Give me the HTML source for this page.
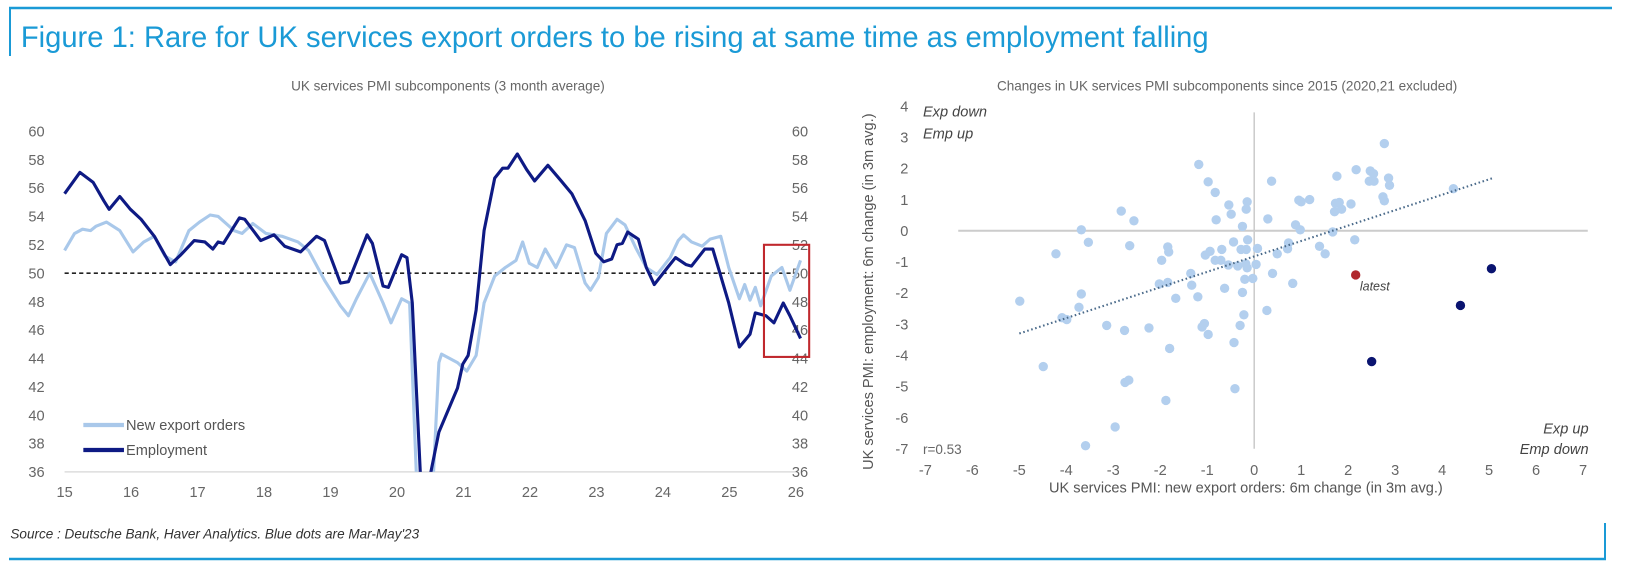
<!DOCTYPE html>
<html><head><meta charset="utf-8"><style>
body{margin:0;background:#fff;width:1632px;height:576px;overflow:hidden;font-family:"Liberation Sans",sans-serif}
svg{display:block}
</style></head><body>
<svg id="s" width="1632" height="576">
<rect x="0" y="0" width="1632" height="576" fill="#fff"/>
<line x1="9" y1="8" x2="1612" y2="8" stroke="#1a9ad6" stroke-width="2.5"/>
<line x1="10" y1="8" x2="10" y2="56" stroke="#1a9ad6" stroke-width="2"/>
<line x1="9" y1="559" x2="1606" y2="559" stroke="#1a9ad6" stroke-width="2.5"/>
<line x1="1605" y1="523" x2="1605" y2="559" stroke="#1a9ad6" stroke-width="2"/>
<g transform="scale(1.0417)">
<text x="20" y="45" font-size="28" fill="#1a9ad6">Figure 1: Rare for UK services export orders to be rising at same time as employment falling</text>
<text x="10" y="517" font-size="13" font-style="italic" fill="#333">Source : Deutsche Bank, Haver Analytics. Blue dots are Mar-May'23</text>
<text x="430" y="87" font-size="13" fill="#666" text-anchor="middle">UK services PMI subcomponents (3 month average)</text>
<text x="1178" y="87" font-size="13" fill="#666" text-anchor="middle">Changes in UK services PMI subcomponents since 2015 (2020,21 excluded)</text>
<g id="left"></g>
<g id="right"></g>
</g>
</svg>
<script>
const NS="http://www.w3.org/2000/svg";
function mk(p,t,a){const e=document.createElementNS(NS,t);for(const k in a)e.setAttribute(k,a[k]);p.appendChild(e);return e;}
// ---- Left chart data
const yearTicks=[15,16,17,18,19,20,21,22,23,24,25,26];
const valTicks=[60,58,56,54,52,50,48,46,44,42,40,38,36];
const empX=[15.0,15.23,15.43,15.59,15.67,15.83,15.99,16.15,16.35,16.59,16.75,16.95,17.11,17.23,17.31,17.39,17.63,17.71,17.95,18.15,18.31,18.55,18.79,18.91,19.15,19.27,19.55,19.63,19.79,19.87,20.07,20.15,20.23,20.35,20.43,20.51,20.63,20.91,20.99,21.07,21.19,21.31,21.47,21.59,21.67,21.81,21.95,22.07,22.27,22.47,22.63,22.83,22.99,23.11,23.23,23.31,23.39,23.47,23.63,23.75,23.87,24.07,24.19,24.35,24.43,24.63,24.75,24.99,25.15,25.31,25.39,25.55,25.67,25.81,25.91,26.07];
const empY=[55.6,57.1,56.4,55.1,54.5,55.4,54.5,53.8,52.6,50.6,51.3,52.3,52.2,51.7,52.2,52.1,53.9,53.8,52.3,52.7,51.9,51.5,52.6,52.3,49.3,49.4,52.7,52.1,49.1,49.0,51.3,51.1,47.9,36.0,33.0,36.0,38.8,41.9,43.6,44.2,47.4,53.0,56.7,57.4,57.4,58.4,57.3,56.5,57.6,56.5,55.6,53.7,51.4,50.8,51.0,52.0,52.1,52.9,52.4,50.4,49.2,50.4,51.1,50.6,50.5,51.7,51.7,47.9,44.8,45.7,47.2,47.0,46.5,47.9,47.0,45.4];
const expX=[15.0,15.15,15.27,15.39,15.47,15.63,15.83,16.03,16.19,16.35,16.51,16.67,16.87,17.03,17.19,17.31,17.55,17.67,17.83,18.03,18.27,18.51,18.67,18.91,19.15,19.27,19.39,19.59,19.79,19.91,20.07,20.19,20.29,20.42,20.55,20.63,20.67,20.91,21.05,21.19,21.31,21.47,21.63,21.79,21.89,21.99,22.11,22.23,22.39,22.55,22.67,22.83,22.91,23.03,23.15,23.31,23.43,23.59,23.75,23.91,24.11,24.23,24.31,24.43,24.59,24.71,24.87,24.99,25.15,25.23,25.31,25.39,25.47,25.63,25.79,25.91,26.07];
const expY=[51.6,52.8,53.1,53.0,53.3,53.6,53.0,51.5,52.2,52.6,51.2,50.8,53.0,53.6,54.1,54.0,53.0,52.8,53.5,52.8,52.6,52.2,51.6,49.5,47.7,47.0,48.2,50.0,47.9,46.5,48.2,47.9,36.0,32.0,36.0,43.7,44.3,43.7,43.1,44.2,47.9,49.8,50.4,50.9,52.2,50.7,50.4,51.7,50.4,52.0,51.8,49.3,48.8,49.7,52.8,53.8,53.4,51.8,50.4,49.9,51.1,52.3,52.7,52.2,51.9,52.4,52.6,50.4,48.2,49.2,48.1,49.0,47.7,49.8,50.4,48.8,50.9];
// ---- Right chart data
const xTicksR=[-7,-6,-5,-4,-3,-2,-1,0,1,2,3,4,5,6,7];
const yTicksR=[4,3,2,1,0,-1,-2,-3,-4,-5,-6,-7];
const scX=[-1.18,-0.98,-0.83,0.37,-0.15,-0.54,-0.49,-0.17,-0.81,0.29,0.95,1.0,1.18,1.76,2.17,2.47,2.54,2.45,2.55,2.77,2.86,2.88,2.74,2.77,1.73,1.81,2.06,1.71,1.86,4.24,0.88,0.98,1.67,2.14,1.39,1.51,-0.25,-0.14,-0.44,-0.28,-0.17,0.07,0.73,0.71,0.49,0.04,-0.18,-0.15,-0.35,-0.55,-0.71,-0.83,-0.69,-0.94,-1.04,-1.84,-1.82,-1.97,-2.65,-2.56,-2.83,-3.68,-3.53,-4.22,-3.68,-3.73,-4.09,-3.99,-4.99,-4.49,-2.02,-1.84,-1.35,-1.33,-1.67,-1.20,-0.63,-0.25,-0.2,-0.03,0.39,0.82,0.27,-0.22,-0.30,-0.43,-3.14,-2.76,-2.24,-1.06,-1.11,-0.98,-1.80,-2.75,-2.67,-1.88,-0.41,-2.96,-3.59];
const scY=[2.13,1.57,1.23,1.59,0.93,0.83,0.53,0.69,0.35,0.38,0.98,0.93,1.0,1.75,1.96,1.92,1.83,1.59,1.59,2.80,1.69,1.46,1.09,0.96,0.88,0.91,0.86,0.61,0.69,1.35,0.19,0.03,-0.04,-0.29,-0.5,-0.74,0.14,-0.29,-0.36,-0.6,-0.6,-0.57,-0.39,-0.58,-0.74,-1.08,-1.06,-1.19,-1.13,-1.10,-0.95,-0.95,-0.60,-0.66,-0.78,-0.52,-0.68,-0.95,-0.48,0.32,0.63,0.03,-0.37,-0.74,-2.03,-2.46,-2.79,-2.85,-2.26,-4.36,-1.71,-1.66,-1.37,-1.75,-2.17,-2.12,-1.85,-1.98,-1.56,-1.53,-1.37,-1.69,-2.56,-2.70,-3.04,-3.59,-3.04,-3.20,-3.12,-2.98,-3.09,-3.33,-3.78,-4.87,-4.80,-5.45,-5.07,-6.30,-6.90];
const recentX=[5.05,4.39,2.50];
const recentY=[-1.22,-2.40,-4.20];
const latestX=[2.16];
const latestY=[-1.42];
const trendX=[-5.0,5.1];
const trendY=[-3.3,1.7];

// ---- Left chart
const L=document.getElementById('left');
const lx=v=>62+(v-15)*63.82, ly=v=>126+(60-v)*13.625;
valTicks.forEach(v=>{
 const t=mk(L,'text',{x:35,y:ly(v)+5,'font-size':14,fill:'#666','text-anchor':'middle'});t.textContent=v;
 
 
 const t2=mk(L,'text',{x:768,y:ly(v)+5,'font-size':14,fill:'#666','text-anchor':'middle'});t2.textContent=v;
 
 
});
yearTicks.forEach(v=>{
 const t=mk(L,'text',{x:lx(v),y:477,'font-size':14,fill:'#666','text-anchor':'middle'});t.textContent=v;
 
 
});
const ax=mk(L,'line',{x1:62,y1:ly(36),x2:764,y2:ly(36),stroke:'#ddd','stroke-width':1.5});


const dl=mk(L,'line',{x1:62,y1:ly(50),x2:764,y2:ly(50),stroke:'#222','stroke-width':1.5,'stroke-dasharray':'4,3'});


const defs=mk(L,'defs',{});const cp=mk(defs,'clipPath',{id:'lc'});mk(cp,'rect',{x:40,y:100,width:740,height:ly(36)-100});
function pl(xs,ys,col,w,name){const p=mk(L,'polyline',{points:xs.map((x,i)=>lx(x)+','+ly(ys[i])).join(' '),fill:'none',stroke:col,'stroke-width':w,'stroke-linejoin':'round','clip-path':'url(#lc)'});
 
 }
pl(expX,expY,'#a9c8ea',3,'export-orders-line');
pl(empX,empY,'#0e1a84',3,'employment-line');
const box=mk(L,'rect',{x:lx(25.52),y:ly(52),width:lx(26.2)-lx(25.52),height:ly(44.1)-ly(52),fill:'none',stroke:'#c0282d','stroke-width':2});


[[408,'#a9c8ea','New export orders','legend-export'],[432,'#0e1a84','Employment','legend-employment']].forEach(a=>{
 const g=mk(L,'g',{});
 
 
 mk(g,'line',{x1:80,y1:a[0],x2:119,y2:a[0],stroke:a[1],'stroke-width':4});
 const t=mk(g,'text',{x:121,y:a[0]+5,'font-size':14,fill:'#555'});t.textContent=a[2];
});
// ---- Right chart
const R=document.getElementById('right');
const rx=v=>1204+v*45.1, ry=v=>221.5-v*29.9;
const h=mk(R,'line',{x1:rx(-6.3),y1:ry(0),x2:rx(7.1),y2:ry(0),stroke:'#ccc','stroke-width':2});


const vv=mk(R,'line',{x1:rx(0),y1:ry(3.8),x2:rx(0),y2:ry(-7),stroke:'#ccc','stroke-width':1.5});


xTicksR.forEach(v=>{const t=mk(R,'text',{x:rx(v),y:456,'font-size':14,fill:'#666','text-anchor':'middle'});t.textContent=v;
 
 });
yTicksR.forEach(v=>{const t=mk(R,'text',{x:872,y:ry(v)+5,'font-size':14,fill:'#666','text-anchor':'end'});t.textContent=v;
 
 });
scX.forEach((x,i)=>{const c=mk(R,'circle',{cx:rx(x),cy:ry(scY[i]),r:4.5,fill:'#b3cfee'});
 
 });
const tl=mk(R,'line',{x1:rx(trendX[0]),y1:ry(trendY[0]),x2:rx(trendX[1]),y2:ry(trendY[1]),stroke:'#4a6a8a','stroke-width':2,'stroke-dasharray':'1.5,2.5'});


recentX.forEach((x,i)=>{const c=mk(R,'circle',{cx:rx(x),cy:ry(recentY[i]),r:4.5,fill:'#0a1470'});
 
 });
latestX.forEach((x,i)=>{const c=mk(R,'circle',{cx:rx(x),cy:ry(latestY[i]),r:4.5,fill:'#b0282d'});
 
 
 const t=mk(R,'text',{x:rx(x)+4,y:ry(latestY[i])+15,'font-size':12,'font-style':'italic',fill:'#444'});t.textContent='latest';
 
 });
[[886,112,'Exp down','start','quadrant-label-tl'],[886,133,'Emp up','start','quadrant-label-tl2'],[1525,416,'Exp up','end','quadrant-label-br'],[1525,436,'Emp down','end','quadrant-label-br2']].forEach(a=>{
 const t=mk(R,'text',{x:a[0],y:a[1],'font-size':14,'font-style':'italic',fill:'#444','text-anchor':a[3]});t.textContent=a[2];
 
 });
const rr=mk(R,'text',{x:886,y:436,'font-size':13,fill:'#666'});rr.textContent='r=0.53';


const xt=mk(R,'text',{x:1196,y:473,'font-size':14,fill:'#555','text-anchor':'middle'});xt.textContent='UK services PMI: new export orders: 6m change (in 3m avg.)';


const yt=mk(R,'text',{x:0,y:0,'font-size':14,fill:'#555','text-anchor':'middle',transform:'translate(838,280) rotate(-90)'});yt.textContent='UK services PMI: employment: 6m change (in 3m avg.)';


</script>
</body></html>
